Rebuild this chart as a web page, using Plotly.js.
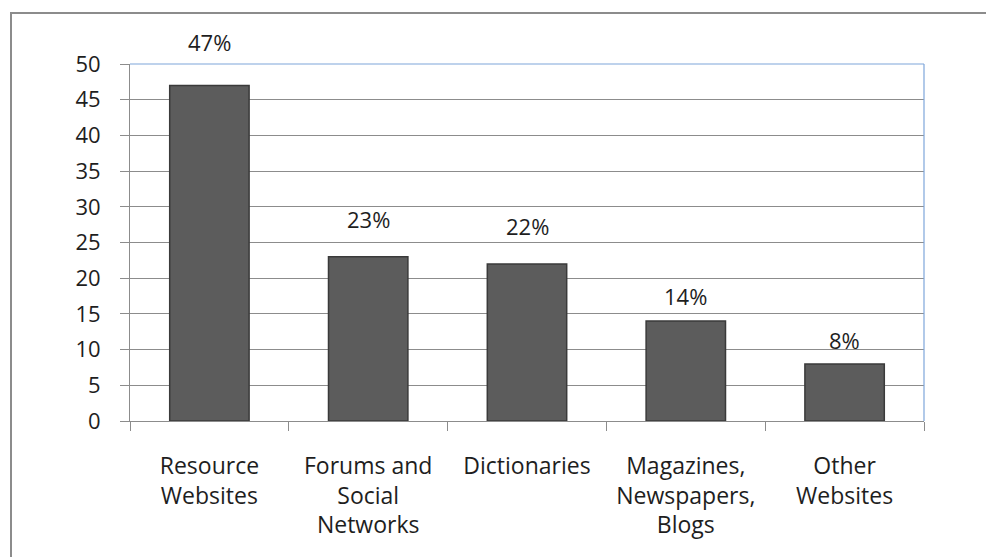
<!DOCTYPE html>
<html>
<head>
<meta charset="utf-8">
<script src="https://cdn.plot.ly/plotly-3.0.1.min.js"></script>
<style>
  html, body { margin: 0; padding: 0; background: #ffffff; }
  #wrap { position: relative; width: 986px; height: 557px; overflow: hidden; background: #fff; }
  #frame { position: absolute; left: 10px; top: 12px; width: 990px; height: 560px;
           border-left: 2px solid #8c8c8c; border-top: 2px solid #8c8c8c; }
  #chart { position: absolute; left: 0; top: 0; width: 986px; height: 557px; }
</style>
</head>
<body>
<div id="wrap">
  <div id="chart"></div>
  <div id="frame"></div>
</div>
<script>
const categories = [
  "Resource<br>Websites",
  "Forums and<br>Social<br>Networks",
  "Dictionaries",
  "Magazines,<br>Newspapers,<br>Blogs",
  "Other<br>Websites"
];
const values = [47, 23, 22, 14, 8];
const valueLabels = ["47%", "23%", "22%", "14%", "8%"];
const yTicks = [0, 5, 10, 15, 20, 25, 30, 35, 40, 45, 50];

// layout-only: vertical offset (px) of each value label above its bar
const labelShift = [43, 38, 38, 25, 24];

const FONT = "Open Sans, Noto Sans, sans-serif";
const TXT = "#1e1e1e";

const trace = {
  type: "bar",
  x: categories,
  y: values,
  marker: {
    color: "#5c5c5c",
    line: { color: "#3a3a3a", width: 1.5 }
  },
  hoverinfo: "skip"
};

const annotations = categories.map((c, i) => ({
  x: c, y: values[i], text: valueLabels[i],
  xref: "x", yref: "y", showarrow: false,
  yanchor: "middle", yshift: labelShift[i],
  font: { family: FONT, size: 22, color: TXT }
}));

const layout = {
  width: 986, height: 557,
  margin: { l: 130, r: 62, t: 64, b: 136 },
  paper_bgcolor: "rgba(0,0,0,0)",
  plot_bgcolor: "#ffffff",
  bargap: 0.5,
  showlegend: false,
  font: { family: FONT, size: 22, color: TXT },
  xaxis: {
    type: "category",
    tickson: "boundaries",
    ticks: "outside", ticklen: 9, tickcolor: "#8c8c8c", tickwidth: 1,
    showline: true, linecolor: "#8c8c8c", linewidth: 1,
    showgrid: false,
    tickfont: { family: FONT, size: 23, color: TXT },
    ticklabelstandoff: 24
  },
  yaxis: {
    range: [0, 50],
    tickvals: yTicks,
    ticks: "outside", ticklen: 9, tickcolor: "#8c8c8c", tickwidth: 1,
    showline: true, linecolor: "#8c8c8c", linewidth: 1,
    showgrid: true, gridcolor: "#8c8c8c", gridwidth: 1,
    zeroline: false,
    tickfont: { family: FONT, size: 22, color: TXT },
    ticklabelstandoff: 15
  },
  shapes: [
    { type: "line", xref: "paper", yref: "paper", x0: 0, x1: 1, y0: 1, y1: 1,
      line: { color: "#7ea6da", width: 1.2 } },
    { type: "line", xref: "paper", yref: "paper", x0: 1, x1: 1, y0: 0, y1: 1,
      line: { color: "#7ea6da", width: 1.2 } }
  ],
  annotations: annotations
};

Plotly.newPlot("chart", [trace], layout, { displayModeBar: false, staticPlot: true });
</script>
</body>
</html>
